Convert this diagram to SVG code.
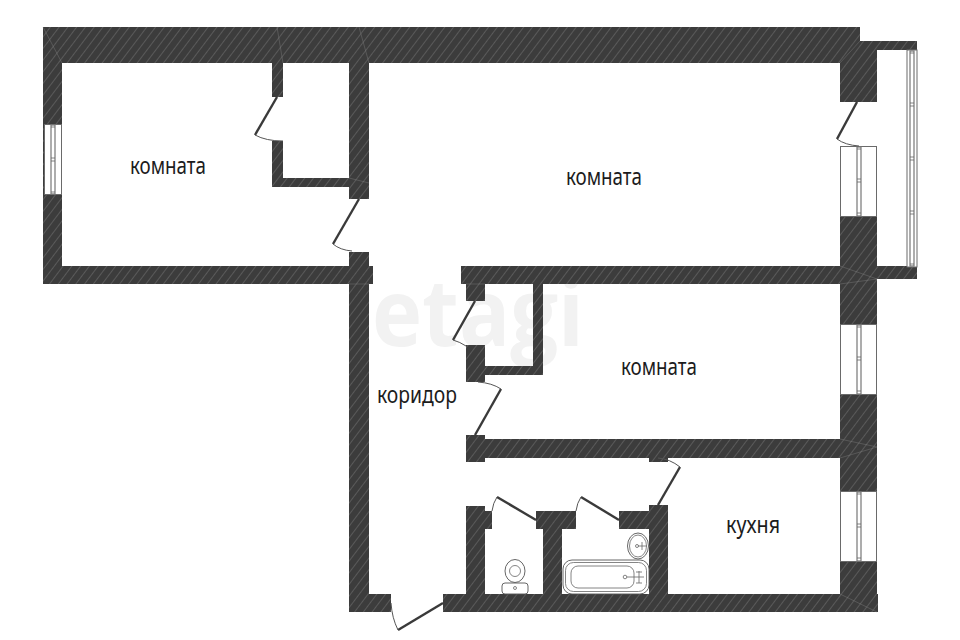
<svg xmlns="http://www.w3.org/2000/svg" width="960" height="640" viewBox="0 0 960 640">
<style>
.w{fill:url(#hatch)}
.seam{stroke:#8a8a8a;stroke-width:.6;fill:none;opacity:.6}
.leaf{stroke:#3a3a3a;stroke-width:2.4;fill:none}
.arc{stroke:#555;stroke-width:1;fill:none}
.fr{fill:#fff;stroke:#6a6a6a;stroke-width:1}
.bar{fill:#fff;stroke:#777;stroke-width:1.2}
.fx{fill:#fff;stroke:#555;stroke-width:.9}
.fn{fill:none;stroke:#666;stroke-width:.8}
.t{font-family:"Noto Sans","Open Sans",sans-serif;font-size:23px;fill:#1c1c1c}
</style>
<defs>
<pattern id="hatch" width="7" height="10" patternUnits="userSpaceOnUse" patternTransform="rotate(37)">
<rect width="7" height="10" fill="#3c3c3c"/>
<rect x="0" width="1" height="10" fill="#5a5a5a"/>
</pattern>
<g id="win">
<rect class="fr" x="840.5" y="0.5" width="36" height="70"/>
<rect class="bar" x="857" y="1" width="4" height="69"/>
<path class="fn" d="M857 3h4M857 33h4M857 36h4M857 67h4" stroke="#333"/>
</g>
</defs>
<rect width="960" height="640" fill="#fff"/>
<text id="watermark" x="372" y="346" font-family="'Open Sans','Noto Sans',sans-serif" font-weight="700" font-size="94" fill="#f2f2f2" textLength="212" lengthAdjust="spacingAndGlyphs">etagi</text>
<g id="walls">
<rect class="w" x="43" y="27" width="817" height="36"/>
<rect class="w" x="43" y="63" width="19" height="221"/>
<rect class="w" x="43" y="266" width="330" height="18"/>
<rect class="w" x="272" y="63" width="11" height="34"/>
<rect class="w" x="272" y="141" width="11" height="46"/>
<rect class="w" x="272" y="178" width="78" height="9"/>
<rect class="w" x="349" y="63" width="20" height="136"/>
<rect class="w" x="349" y="252" width="20" height="14"/>
<rect class="w" x="349" y="284" width="20" height="328"/>
<rect class="w" x="349" y="594" width="42" height="18"/>
<rect class="w" x="443" y="594" width="435" height="18"/>
<rect class="w" x="840" y="63" width="37" height="39"/>
<rect class="w" x="860" y="41" width="57" height="9"/>
<rect class="w" x="860" y="50" width="17" height="14"/>
<rect class="w" x="840" y="216" width="37" height="108"/>
<rect class="w" x="877" y="266" width="40" height="13"/>
<rect class="w" x="840" y="394" width="37" height="97"/>
<rect class="w" x="840" y="561" width="37" height="51"/>
<rect class="w" x="461" y="266" width="379" height="18"/>
<rect class="w" x="466" y="284" width="19" height="17"/>
<rect class="w" x="466" y="345" width="19" height="37"/>
<rect class="w" x="485" y="366" width="58" height="9"/>
<rect class="w" x="533" y="284" width="10" height="91"/>
<rect class="w" x="466" y="435" width="19" height="27"/>
<rect class="w" x="485" y="439" width="355" height="19"/>
<rect class="w" x="649" y="458" width="19" height="4"/>
<rect class="w" x="466" y="506" width="19" height="88"/>
<rect class="w" x="485" y="511" width="7" height="18"/>
<rect class="w" x="536" y="511" width="40" height="18"/>
<rect class="w" x="543" y="529" width="19" height="65"/>
<rect class="w" x="619" y="511" width="49" height="18"/>
<rect class="w" x="649" y="505" width="19" height="6"/>
<rect class="w" x="649" y="529" width="19" height="65"/>
<path class="seam" d="M43 27L62 63M277 27L283 63M359 27L369 63M860 41L840 63M840 266L877 279M840 284L877 279M840 439L877 447M840 458L877 447M840 594L877 612M349 178L369 183M349 284H369M466 284H485"/>
</g>
<g id="windows">
<g id="window-left">
<rect class="fr" x="44.5" y="124.5" width="17" height="70"/>
<rect class="bar" x="51" y="125" width="4" height="69"/>
<path class="fn" d="M51 127h4M51 158h4M51 161h4M51 192h4"/>
</g>
<use href="#win" y="146"/>
<use href="#win" y="324"/>
<use href="#win" y="491"/>
<g id="window-balcony">
<rect class="fr" x="907" y="50" width="10" height="217"/>
<rect class="bar" x="910" y="51" width="4" height="215"/>
<path class="fn" d="M910 53h4M910 103h4M910 106h4M910 157h4M910 160h4M910 211h4M910 214h4M910 264h4"/>
</g>
</g>
<g id="doors">
<path class="leaf" d="M277 97L255 135"/><path class="arc" d="M255 135Q266 141 283 141"/>
<path class="leaf" d="M359 199L333 244"/><path class="arc" d="M333 244Q340 250 352 251"/>
<path class="leaf" d="M475 301L453 340"/><path class="arc" d="M453 340Q460 342 466 346"/>
<path class="leaf" d="M475 435L501 389"/><path class="arc" d="M501 389Q492 383 478 382"/>
<path class="leaf" d="M536 520L497 497"/><path class="arc" d="M497 497Q493 503 492 511"/>
<path class="leaf" d="M619 520L581 497"/><path class="arc" d="M581 497Q577 503 576 511"/>
<path class="leaf" d="M658 505L680 467"/><path class="arc" d="M680 467Q670 459 658 458"/>
<path class="leaf" d="M443 603L398 630"/><path class="arc" d="M398 630Q392 618 391 603"/>
<path class="leaf" d="M857 102L837 139"/><path class="arc" d="M837 139Q845 145 859 146"/>
</g>
<g id="toilet">
<ellipse class="fx" cx="515" cy="571" rx="10" ry="11.5"/>
<circle class="fn" cx="515" cy="571" r="5.5"/>
<rect class="fx" x="502" y="583" width="26" height="11" rx="3"/>
<circle class="fn" cx="515" cy="588" r="1.5"/>
</g>
<g id="bath">
<rect class="fx" x="563" y="560" width="86" height="34" rx="9"/>
<rect class="fn" x="565.5" y="562.5" width="81" height="29" rx="8"/>
<rect class="fn" x="571" y="566" width="63" height="22" rx="7"/>
<circle class="fn" cx="625" cy="577" r="1.8"/>
<path class="fn" d="M627 577h17M639 571v12M636 572h6M636 583h6"/>
</g>
<g id="sink">
<ellipse class="fx" cx="638" cy="546" rx="10.5" ry="13"/>
<ellipse class="fn" cx="638" cy="546" rx="8.5" ry="11"/>
<circle class="fn" cx="637" cy="546" r="1.5"/>
<path class="fn" d="M638 546h9M642 542v8"/>
</g>
<g id="labels">
<text class="t" x="130" y="174" textLength="76" lengthAdjust="spacingAndGlyphs">комната</text>
<text class="t" x="566" y="185" textLength="76" lengthAdjust="spacingAndGlyphs">комната</text>
<text class="t" x="621" y="375" textLength="76" lengthAdjust="spacingAndGlyphs">комната</text>
<text class="t" x="377" y="403" textLength="80" lengthAdjust="spacingAndGlyphs">коридор</text>
<text class="t" x="726" y="533" textLength="54" lengthAdjust="spacingAndGlyphs">кухня</text>
</g>
</svg>
